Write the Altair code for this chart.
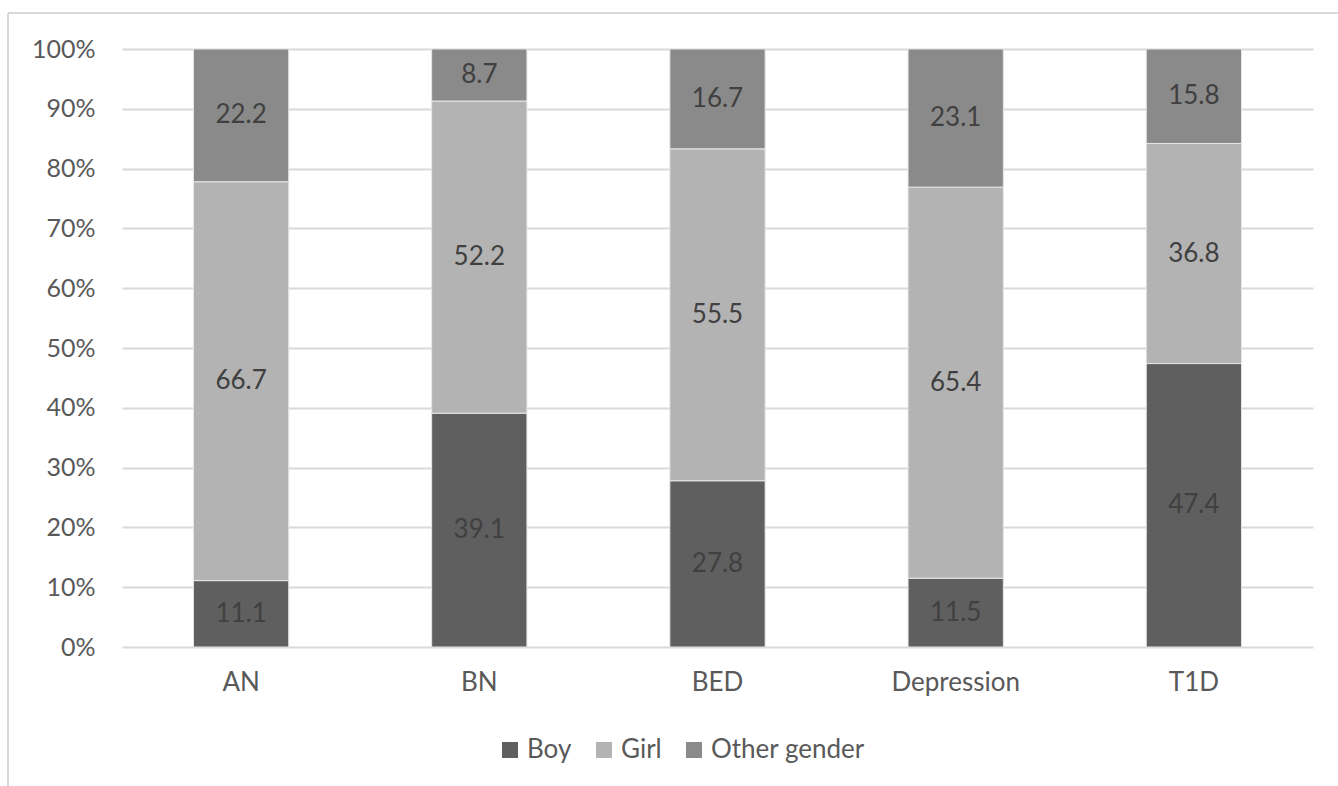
import altair as alt
import pandas as pd

conditions = ["AN", "BN", "BED", "Depression", "T1D"]
genders = ["Boy", "Girl", "Other gender"]
boy = [11.1, 39.1, 27.8, 11.5, 47.4]
girl = [66.7, 52.2, 55.5, 65.4, 36.8]
other = [22.2, 8.7, 16.7, 23.1, 15.8]
colors = ["#5f5f5f", "#b3b3b3", "#8a8a8a"]

rows = []
for i, c in enumerate(conditions):
    for k, (g, vals) in enumerate(zip(genders, [boy, girl, other])):
        rows.append({"condition": c, "gender": g, "order": k, "value": vals[i]})
df = pd.DataFrame(rows)

FONT = "Lato"
W, H = 1191, 598

base = alt.Chart(df).transform_stack(
    stack="value", groupby=["condition"], as_=["y0", "y1"],
    sort=[alt.SortField("order", order="ascending")]
).transform_calculate(mid="(datum.y0 + datum.y1) / 2")

x_enc = alt.X("condition:N", sort=conditions, title=None,
              scale=alt.Scale(paddingInner=0.6, paddingOuter=0.3),
              axis=alt.Axis(labelAngle=0, labelFont=FONT, labelFontSize=26,
                            labelColor="#595959", ticks=False, domain=False,
                            labelPadding=22))

bars = base.mark_bar(stroke="#e6e6e6", strokeWidth=1).encode(
    x=x_enc,
    y=alt.Y("y0:Q", title=None,
            scale=alt.Scale(domain=[0, 100], nice=False),
            axis=alt.Axis(values=list(range(0, 101, 10)),
                          labelExpr="datum.value + '%'",
                          labelFont=FONT, labelFontSize=25, labelColor="#595959",
                          ticks=False, domain=False, labelPadding=27,
                          grid=True, gridColor="#d9d9d9", gridWidth=2)),
    y2="y1:Q",
    color=alt.Color("gender:N", sort=genders,
                    scale=alt.Scale(domain=genders, range=colors),
                    legend=alt.Legend(title=None, orient="none", direction="horizontal",
                                      legendX=375, legendY=688,
                                      symbolType="square", symbolSize=256,
                                      symbolStrokeWidth=0,
                                      labelFont=FONT, labelFontSize=26,
                                      labelColor="#595959", columnPadding=19,
                                      labelOffset=4)),
)

labels = base.mark_text(font=FONT, fontSize=26, color="#404040").encode(
    x=alt.X("condition:N", sort=conditions),
    y=alt.Y("mid:Q"),
    text=alt.Text("value:Q", format=".1f"),
)

# outer chart frame (top and left edges)
frame_top = alt.Chart(pd.DataFrame({"a": [0]})).mark_rule(color="#d9d9d9", strokeWidth=2).encode(
    x=alt.value(-114), x2=alt.value(1300), y=alt.value(-36))
frame_left = alt.Chart(pd.DataFrame({"a": [0]})).mark_rule(color="#d9d9d9", strokeWidth=2).encode(
    x=alt.value(-114), y=alt.value(-36), y2=alt.value(800))

chart = alt.layer(bars, labels, frame_top, frame_left).properties(
    width=W, height=H,
    autosize=alt.AutoSizeParams(type="none"),
    padding={"left": 122, "top": 49, "right": 25, "bottom": 139},
    background="white",
).configure_view(stroke=None)

chart.save("out.html", embed_options={"renderer": "svg", "actions": False})
